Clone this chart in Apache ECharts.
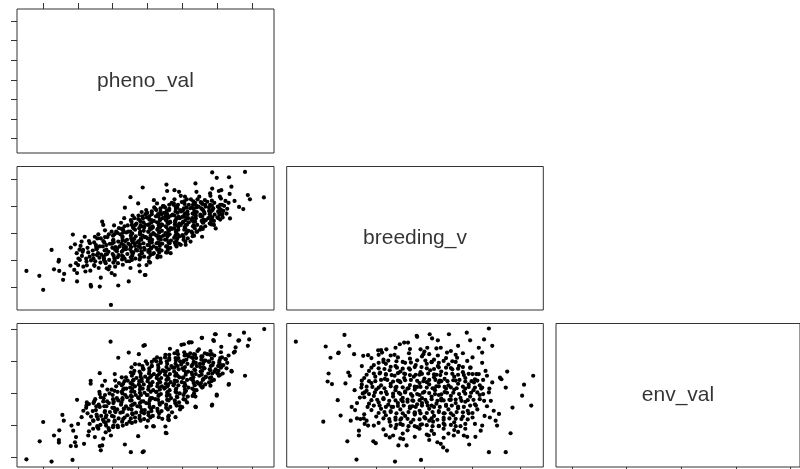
<!DOCTYPE html>
<html>
<head>
<meta charset="utf-8">
<script src="https://cdn.jsdelivr.net/npm/echarts@6/dist/echarts.min.js"></script>
<style>
html,body{margin:0;padding:0;background:#fff;}
#chart{width:800px;height:469px;}
</style>
</head>
<body>
<div id="chart"></div>
<script>
// ---- variable names (diagonal labels) ----
const varNames = ['pheno_val', 'breeding_v', 'env_val'];

// ---- tick values ----
const phenoTicks = [-3, -2, -1, 0, 1, 2, 3];
const breedingTicks = [-2, -1, 0, 1, 2];
const envTicks = [-2, -1, 0, 1, 2];

// ---- axis extents (data range + 4% padding, as in R pairs) ----
const phenoRange = [-3.74, 3.62];
const breedingRange = [-2.86, 2.47];
const envRange = [-2.29, 2.175];

// ---- panel: x = pheno_val, y = breeding_v ----
const pheno_breeding = [
[-3.47,-1.41],[-3.10,-1.59],[-2.99,-2.11],[-2.75,-0.63],[-2.68,-1.35],[-2.54,-1.00],[-2.55,-1.06],[-2.53,-1.41],[-2.39,-1.52],[-2.42,-1.74],
[-2.21,-1.21],[-2.14,-0.06],[-2.20,-0.54],[-2.08,-0.42],[-2.03,-0.75],[-2.10,-1.37],[-2.02,-1.49],[-2.02,-1.80],[-1.94,-1.00],[-1.99,-1.19],
[-1.89,-0.32],[-1.80,-0.14],[-1.85,-0.63],[-1.75,-1.06],[-1.78,-1.43],[-1.65,-0.38],[-1.62,-1.99],[-1.63,-1.93],[-1.56,-0.81],[-1.53,-1.19],
[-1.51,-0.14],[-1.46,-0.57],[-1.37,-1.99],[-1.34,-1.66],[-1.30,0.42],[-1.27,0.30],[-1.22,-1.06],[-1.17,-1.31],[-1.05,-2.67],[-1.03,-1.49],
[-0.94,-1.56],[-0.84,-1.95],[-0.65,0.94],[-0.54,-1.80],[-0.49,1.33],[-0.14,1.69],[-0.27,1.10],[-0.22,-1.43],[-0.08,-1.56],
[1.85,2.25],[1.98,2.05],[2.33,2.07],[2.79,2.27],[3.33,1.32],[2.87,1.41],[2.93,1.25],[2.74,0.89],[2.62,0.97],[2.49,1.19],
[2.40,1.72],[2.36,0.54],[2.23,1.19],[2.19,1.01],[2.11,1.59],[2.04,1.56],[2.07,1.35],[2.11,0.85],[2.14,0.69],[1.95,0.17],
[1.90,0.30],[1.85,0.48],[1.80,0.79],[1.85,1.65],[1.79,1.47],[1.71,1.16],[1.56,-0.14],[1.37,1.84],[1.40,1.53],[1.42,0.05],
[1.23,-0.32],[1.09,-0.44],[0.95,-0.44],[0.80,-0.44],[0.90,1.53],[0.95,1.38],[0.77,1.59],[0.54,1.80],[0.56,1.56],[0.47,1.28],
[0.18,1.22],[0.66,-0.75],[0.56,-0.72],[0.37,-0.88],[0.28,-0.91],[0.18,-0.75],[0.04,-1.06],[-0.03,-1.19],[-0.06,-1.56],[0.04,-0.63],
[-1.95,-0.62],[-1.88,-0.85],[-2.05,-1.12],[-1.92,-0.48],[-1.84,-1.25],[-1.98,-0.95],[-1.86,-0.70],
[-1.72,-0.55],[-1.66,-0.88],[-1.74,-1.20],[-1.68,-0.30],[-1.62,-1.02],[-1.70,-0.72],[-1.64,-1.40],[-1.76,-0.95],
[-1.48,-0.45],[-1.42,-0.75],[-1.50,-1.05],[-1.44,-0.20],[-1.40,-1.30],[-1.46,-0.60],[-1.38,-0.92],[-1.52,-1.22],[-1.41,-0.05],
[-1.24,-0.35],[-1.18,-0.62],[-1.26,-0.88],[-1.20,-1.12],[-1.15,-0.15],[-1.22,0.10],[-1.16,-0.78],[-1.28,-0.50],[-1.12,-1.35],[-1.25,-1.00],
[-0.98,-0.25],[-0.92,-0.52],[-1.00,-0.78],[-0.94,-1.02],[-0.90,0.05],[-0.96,0.28],[-0.88,-0.68],[-1.02,-0.40],[-0.93,-1.25],[-0.99,-0.10],[-0.86,-0.90],
[-0.72,-0.18],[-0.68,-0.45],[-0.74,-0.70],[-0.66,-0.95],[-0.70,0.12],[-0.76,0.38],[-0.64,-0.30],[-0.71,-1.18],[-0.62,-0.60],[-0.78,-0.05],[-0.67,0.55],[-0.73,-0.85],
[-0.48,-0.10],[-0.42,-0.35],[-0.50,-0.60],[-0.44,-0.85],[-0.40,0.18],[-0.46,0.42],[-0.38,-0.22],[-0.52,-1.05],[-0.41,-0.72],[-0.55,0.05],[-0.43,0.65],[-0.36,-0.48],[-0.49,-1.30],
[-0.22,0.00],[-0.18,-0.25],[-0.25,-0.50],[-0.16,-0.75],[-0.20,0.28],[-0.27,0.52],[-0.14,-0.10],[-0.23,-0.98],[-0.12,0.40],[-0.29,-0.35],[-0.17,0.78],[-0.24,-1.20],[-0.10,-0.55],
[0.02,0.05],[0.08,-0.20],[0.00,-0.45],[0.06,-0.70],[0.04,0.32],[-0.02,0.58],[0.10,0.15],[0.03,-0.92],[0.12,-0.35],[-0.04,0.85],[0.07,-1.10],[0.11,0.48],[-0.05,-0.15],
[0.28,0.12],[0.32,-0.12],[0.26,-0.38],[0.34,-0.62],[0.30,0.38],[0.24,0.62],[0.36,0.22],[0.29,-0.85],[0.38,-0.25],[0.22,0.90],[0.33,0.02],[0.27,1.10],[0.35,0.52],
[0.52,0.25],[0.58,0.00],[0.50,-0.25],[0.56,-0.50],[0.54,0.50],[0.48,0.75],[0.60,0.35],[0.53,-0.72],[0.62,0.10],[0.46,1.00],[0.57,-0.12],[0.51,0.62],[0.63,-0.38],
[0.78,0.32],[0.82,0.08],[0.76,-0.18],[0.84,0.55],[0.80,0.80],[0.74,1.05],[0.86,-0.05],[0.79,0.45],[0.88,0.22],[0.72,0.68],[0.83,-0.30],[0.77,1.25],
[1.02,0.42],[1.08,0.18],[1.00,-0.08],[1.06,0.68],[1.04,0.92],[0.98,1.15],[1.10,0.30],[1.03,-0.25],[1.12,0.55],[0.96,0.80],[1.07,1.35],[1.13,0.05],
[1.28,0.55],[1.32,0.28],[1.26,0.05],[1.34,0.80],[1.30,1.05],[1.24,1.25],[1.36,0.42],[1.29,-0.12],[1.38,0.65],[1.22,0.92],
[1.52,0.62],[1.58,0.38],[1.50,0.12],[1.56,0.88],[1.54,1.12],[1.48,1.35],[1.60,0.50],[1.62,0.78],[1.46,0.98],
[1.78,0.70],[1.82,0.45],[1.76,0.95],[1.84,1.20],[1.74,0.55],[1.86,0.85],[1.80,1.38],
[2.02,0.80],[2.08,1.05],[2.00,0.58],[2.10,1.28],[2.06,0.68],
[2.28,0.90],[2.32,1.12],[2.26,0.72],[2.35,1.45],
[0.15,0.20],[0.20,-0.05],[0.42,0.30],[0.45,-0.10],[0.65,0.40],[0.70,0.15],[0.92,0.55],[0.95,0.30],[1.15,0.70],[1.18,0.40],
[0.40,0.70],[0.62,0.85],[0.10,-0.55],[-0.30,-0.65],[-0.55,-0.40],[-0.10,0.20],[0.85,0.95],[1.40,0.95],[1.65,1.05],[-0.80,-0.50],
[-0.35,0.30],[0.25,-0.55],[1.00,0.60],[0.58,0.58],[0.35,-0.40],
[-1.55,-0.95],[-1.57,-0.65],[-1.53,-0.35],
[-1.35,-1.10],[-1.33,-0.80],[-1.37,-0.50],[-1.34,-0.20],
[-1.10,-1.00],[-1.12,-0.70],[-1.08,-0.40],[-1.11,-0.05],[-1.09,-1.25],
[-0.85,-1.12],[-0.83,-0.82],[-0.87,-0.58],[-0.84,-0.32],[-0.86,0.00],[-0.82,0.18],
[-0.60,-1.05],[-0.58,-0.78],[-0.62,-0.52],[-0.59,-0.25],[-0.61,0.02],[-0.57,0.28],
[-0.35,-0.95],[-0.33,-0.62],[-0.37,-0.38],[-0.34,-0.12],[-0.36,0.12],[-0.32,0.35],[-0.38,0.55],
[-0.10,-0.88],[-0.08,-0.62],[-0.12,-0.38],[-0.09,-0.15],[-0.11,0.08],[-0.07,0.30],[-0.13,0.55],[-0.06,0.70],
[0.15,-0.78],[0.17,-0.50],[0.13,-0.25],[0.16,0.00],[0.14,0.25],[0.18,0.45],[0.12,0.70],[0.19,0.95],
[0.40,-0.65],[0.42,-0.40],[0.38,-0.15],[0.41,0.08],[0.39,0.32],[0.43,0.55],[0.37,0.80],[0.44,1.00],
[0.65,-0.55],[0.67,-0.28],[0.63,-0.05],[0.66,0.18],[0.64,0.42],[0.68,0.65],[0.62,0.90],[0.69,1.12],
[0.90,-0.40],[0.92,-0.12],[0.88,0.12],[0.91,0.35],[0.89,0.60],[0.93,0.85],[0.87,1.05],
[1.15,-0.20],[1.17,0.08],[1.13,0.32],[1.16,0.55],[1.14,0.80],[1.18,1.05],[1.12,1.25],
[1.40,0.05],[1.42,0.30],[1.38,0.55],[1.41,0.78],[1.39,1.02],[1.43,1.25],
[1.65,0.25],[1.67,0.48],[1.63,0.72],[1.66,0.98],[1.64,1.22],
[1.90,0.45],[1.92,0.68],[1.88,0.92],[1.91,1.12],
[2.15,0.58],[2.17,0.82],[2.13,1.05],
[-1.45,-0.82],[-1.47,-0.52],[-1.25,-0.95],[-1.23,-0.65],[-1.27,-0.30],
[-0.98,-1.10],[-0.97,-0.85],[-1.01,-0.55],[-0.99,-0.28],[-1.03,0.05],
[-0.73,-0.98],[-0.71,-0.65],[-0.75,-0.40],[-0.72,-0.12],[-0.74,0.15],
[-0.48,-0.90],[-0.46,-0.70],[-0.50,-0.45],[-0.47,-0.20],[-0.49,0.05],[-0.45,0.30],
[-0.23,-0.82],[-0.21,-0.55],[-0.25,-0.30],[-0.22,-0.05],[-0.24,0.18],[-0.20,0.42],[-0.26,0.65],
[0.02,-0.70],[0.04,-0.45],[0.00,-0.20],[0.03,0.05],[0.01,0.30],[0.05,0.50],[-0.01,0.75],
[0.28,-0.62],[0.30,-0.35],[0.26,-0.10],[0.29,0.15],[0.27,0.40],[0.31,0.62],[0.25,0.85],
[0.53,-0.50],[0.55,-0.25],[0.51,0.00],[0.54,0.22],[0.52,0.48],[0.56,0.70],[0.50,0.95],
[0.78,-0.35],[0.80,-0.08],[0.76,0.18],[0.79,0.42],[0.77,0.65],[0.81,0.90],[0.75,1.10],
[1.03,-0.15],[1.05,0.12],[1.01,0.38],[1.04,0.62],[1.02,0.85],[1.06,1.08],
[1.28,0.00],[1.30,0.25],[1.26,0.48],[1.29,0.72],[1.27,0.95],[1.31,1.18],
[1.53,0.22],[1.55,0.45],[1.51,0.68],[1.54,0.92],[1.52,1.15],
[1.78,0.35],[1.80,0.60],[1.76,0.82],[1.79,1.05],
[2.03,0.55],[2.05,0.75],[2.01,0.98],
[-1.20,-0.80],[-1.18,-0.45],[-1.22,-0.15],
[-0.95,-0.95],[-0.93,-0.62],[-0.97,-0.35],[-0.95,-0.05],
[-0.70,-0.88],[-0.68,-0.55],[-0.72,-0.28],[-0.70,0.02],[-0.66,0.25],
[-0.45,-1.00],[-0.43,-0.78],[-0.47,-0.52],[-0.45,-0.28],[-0.44,-0.02],[-0.42,0.22],[-0.48,0.48],
[-0.20,-0.90],[-0.18,-0.68],[-0.22,-0.42],[-0.19,-0.20],[-0.21,0.05],[-0.17,0.25],[-0.23,0.48],[-0.15,0.62],
[0.08,-0.82],[0.10,-0.58],[0.06,-0.32],[0.09,-0.08],[0.07,0.18],[0.11,0.40],[0.05,0.62],[0.12,0.80],
[0.33,-0.72],[0.35,-0.48],[0.31,-0.20],[0.34,0.05],[0.32,0.28],[0.36,0.48],[0.30,0.70],[0.37,0.92],
[0.58,-0.62],[0.60,-0.35],[0.56,-0.10],[0.59,0.12],[0.57,0.38],[0.61,0.60],[0.55,0.82],[0.62,1.05],
[0.83,-0.50],[0.85,-0.20],[0.81,0.05],[0.84,0.28],[0.82,0.52],[0.86,0.75],[0.80,0.98],
[1.08,-0.32],[1.10,-0.02],[1.06,0.22],[1.09,0.48],[1.07,0.72],[1.11,0.95],[1.05,1.18],
[1.33,-0.10],[1.35,0.18],[1.31,0.42],[1.34,0.68],[1.32,0.90],[1.36,1.12],
[1.58,0.15],[1.60,0.40],[1.56,0.62],[1.59,0.85],[1.57,1.08],
[1.83,0.32],[1.85,0.58],[1.81,0.80],[1.84,1.02],
[2.08,0.50],[2.10,0.70],[2.06,0.92]
];

// ---- panel: x = pheno_val, y = env_val ----
const pheno_env = [
[-3.47,-2.05],[-2.75,-2.12],[-2.15,-2.07],[-3.09,-1.49],[-2.99,-0.89],[-2.68,-1.31],[-2.54,-1.53],[-2.54,-1.45],[-2.44,-0.67],[-2.40,-0.85],
[-2.53,-1.15],[-2.20,-1.64],[-2.05,-1.64],[-2.02,-0.20],[-1.63,0.39],[-1.63,0.30],[-1.37,0.63],[-1.06,1.61],[-0.84,1.11],[-0.54,1.27],
[-0.08,1.50],[-0.48,-1.83],[-0.14,-1.83],[-0.65,-1.59],[-1.34,-1.77],[3.34,2.00],[2.91,1.68],[2.87,1.48],[2.79,0.55],[2.76,1.89],
[2.60,1.64],[2.50,1.30],[2.35,1.82],[2.32,0.27],[2.41,0.68],[2.24,1.06],[1.98,-0.07],[1.84,-0.38],[1.38,-0.43],[1.55,1.73],
[1.93,1.84],[1.88,1.66],[1.20,1.59],[1.26,1.59],[0.97,1.51],[0.64,1.39],[0.52,-1.23],[0.16,-1.02],[-0.03,-1.04],[0.59,-0.73],
[0.59,-0.81],[0.93,-0.40],[0.93,-0.50],[-0.27,-1.33],[-1.37,-1.64],
[-2.13,-1.16],[-2.18,-1.00],[-1.99,-0.95],[-1.89,-0.74],[-1.84,-0.54],[-1.75,-0.38],[-1.68,-0.33],[-1.55,-0.30],[-1.56,-0.85],[-1.70,-1.31],
[-1.82,-1.57],[-1.51,-1.36],[-1.30,-1.62],[-1.27,-1.41],[-1.41,-1.10],[-1.20,-1.21],[-1.05,-1.31],[-0.99,-1.05],[-2.08,-1.52],[-2.05,-1.36],
[-1.37,-0.02],[-1.30,0.24],[-1.22,0.39],[-0.94,0.60],[-0.74,0.50],[-0.46,0.81],[-0.36,0.91],[-0.25,1.22],[-0.12,1.48],
[2.62,1.65],[2.52,1.43],[2.47,1.27],[2.40,0.70],[2.33,0.29],[2.23,1.07],[2.11,1.45],[2.07,0.91],[1.98,-0.04],[1.85,-0.35],
[1.90,1.63],[1.95,1.84],[1.56,1.73],[1.37,-0.41],[1.37,-0.10],[1.18,1.58],[1.04,1.53],[0.85,1.32],[0.80,-0.74],[0.61,-0.69],
[0.61,-0.83],[0.51,-1.03],[0.54,-1.24],[0.42,-0.79],[0.18,-1.03],[-0.11,-1.80],[0.01,-0.85],[0.32,-0.74],[0.70,-0.59],[0.99,-0.43],
[1.13,-0.28],[1.52,0.24],[1.76,0.34],[1.80,0.24],[1.66,0.50],[2.04,0.55],[1.95,0.75],[1.71,1.22],[1.80,1.32],[1.47,1.37],
[1.33,1.22],[1.61,1.01],[2.14,0.86],
[-1.72,-0.62],[-1.66,-0.95],[-1.74,-0.28],[-1.68,-1.18],[-1.62,-0.72],[-1.76,-0.45],
[-1.48,-0.52],[-1.42,-0.80],[-1.50,-0.18],[-1.44,-1.02],[-1.40,-0.35],[-1.46,-0.66],[-1.38,0.05],
[-1.24,-0.40],[-1.18,-0.68],[-1.26,-0.15],[-1.20,-0.92],[-1.15,0.12],[-1.22,-0.55],[-1.16,-0.25],[-1.28,-0.82],[-1.12,-1.08],
[-0.98,-0.30],[-0.92,-0.58],[-1.00,-0.05],[-0.94,-0.85],[-0.90,0.22],[-0.96,-0.45],[-0.88,-0.15],[-1.02,-0.70],[-0.93,0.40],[-0.86,-1.00],
[-0.72,-0.20],[-0.68,-0.48],[-0.74,0.05],[-0.66,-0.75],[-0.70,0.30],[-0.76,-0.35],[-0.64,-0.05],[-0.71,-1.00],[-0.62,0.50],[-0.78,-0.60],[-0.67,0.15],
[-0.48,-0.08],[-0.42,-0.35],[-0.50,0.18],[-0.44,-0.62],[-0.40,0.42],[-0.46,-0.22],[-0.38,0.05],[-0.52,-0.88],[-0.41,0.62],[-0.55,-0.48],[-0.43,0.28],[-0.36,-0.75],
[-0.22,0.02],[-0.18,-0.25],[-0.25,0.28],[-0.16,-0.52],[-0.20,0.52],[-0.27,-0.12],[-0.14,0.15],[-0.23,-0.78],[-0.12,0.75],[-0.29,-0.40],[-0.17,0.38],[-0.24,0.90],[-0.10,-0.62],
[0.02,0.12],[0.08,-0.15],[0.00,0.38],[0.06,-0.42],[0.04,0.62],[-0.02,-0.05],[0.10,0.25],[0.03,-0.68],[0.12,0.85],[-0.04,-0.30],[0.07,0.50],[0.11,-0.55],[-0.05,1.00],
[0.28,0.22],[0.32,-0.05],[0.26,0.48],[0.34,-0.30],[0.30,0.72],[0.24,0.05],[0.36,0.35],[0.29,-0.55],[0.38,0.95],[0.22,-0.18],[0.33,0.60],[0.27,1.12],[0.35,0.12],
[0.52,0.30],[0.58,0.05],[0.50,0.58],[0.56,-0.20],[0.54,0.82],[0.48,0.15],[0.60,0.45],[0.53,-0.45],[0.62,1.05],[0.46,0.70],[0.57,0.22],[0.51,1.20],[0.63,-0.05],
[0.78,0.40],[0.82,0.15],[0.76,0.68],[0.84,-0.10],[0.80,0.92],[0.74,0.25],[0.86,0.55],[0.79,-0.30],[0.88,1.10],[0.72,0.80],[0.83,0.02],[0.77,1.25],
[1.02,0.50],[1.08,0.25],[1.00,0.78],[1.06,0.02],[1.04,1.02],[0.98,0.35],[1.10,0.65],[1.03,-0.18],[1.12,1.20],[0.96,0.90],[1.07,0.12],
[1.28,0.58],[1.32,0.32],[1.26,0.85],[1.34,0.10],[1.30,1.10],[1.24,0.45],[1.36,0.72],[1.29,-0.08],[1.38,0.95],[1.22,1.25],
[1.52,0.68],[1.58,0.42],[1.50,0.92],[1.56,0.18],[1.54,1.15],[1.48,0.55],[1.60,0.80],[1.62,1.02],[1.46,0.30],
[1.78,0.75],[1.82,0.50],[1.76,1.00],[1.84,1.22],[1.74,0.62],[1.86,0.88],
[2.02,0.85],[2.08,1.10],[2.00,0.62],[2.10,1.28],
[2.28,0.95],[2.32,1.18],[2.26,0.78],
[-1.55,-0.85],[-1.57,-0.55],[-1.53,-0.25],[-1.56,-1.10],
[-1.35,-0.98],[-1.33,-0.70],[-1.37,-0.42],[-1.34,-0.12],
[-1.10,-1.15],[-1.12,-0.85],[-1.08,-0.58],[-1.11,-0.30],[-1.09,0.00],
[-0.85,-1.05],[-0.83,-0.78],[-0.87,-0.50],[-0.84,-0.22],[-0.86,0.05],[-0.82,0.32],
[-0.60,-0.95],[-0.58,-0.68],[-0.62,-0.40],[-0.59,-0.12],[-0.61,0.15],[-0.57,0.40],
[-0.35,-0.88],[-0.33,-0.60],[-0.37,-0.32],[-0.34,-0.05],[-0.36,0.22],[-0.32,0.48],[-0.38,0.70],
[-0.10,-0.80],[-0.08,-0.52],[-0.12,-0.25],[-0.09,0.02],[-0.11,0.28],[-0.07,0.52],[-0.13,0.78],
[0.15,-0.70],[0.17,-0.42],[0.13,-0.15],[0.16,0.10],[0.14,0.35],[0.18,0.60],[0.12,0.85],[0.19,1.05],
[0.40,-0.55],[0.42,-0.28],[0.38,-0.02],[0.41,0.22],[0.39,0.48],[0.43,0.72],[0.37,0.98],
[0.65,-0.42],[0.67,-0.15],[0.63,0.10],[0.66,0.35],[0.64,0.60],[0.68,0.85],[0.62,1.10],
[0.90,-0.28],[0.92,0.00],[0.88,0.25],[0.91,0.50],[0.89,0.75],[0.93,1.00],[0.87,1.22],
[1.15,-0.10],[1.17,0.18],[1.13,0.42],[1.16,0.68],[1.14,0.92],[1.18,1.15],
[1.40,0.10],[1.42,0.35],[1.38,0.60],[1.41,0.85],[1.39,1.10],[1.43,1.32],
[1.65,0.28],[1.67,0.52],[1.63,0.78],[1.66,1.02],[1.64,1.25],
[1.90,0.42],[1.92,0.68],[1.88,0.95],[1.91,1.18],
[2.15,0.62],[2.17,0.88],[2.13,1.12],
[-1.45,-0.72],[-1.47,-0.40],[-1.43,-1.05],[-1.25,-0.88],[-1.23,-0.58],[-1.27,-0.25],
[-0.98,-1.00],[-0.97,-0.72],[-1.01,-0.45],[-0.99,-0.18],[-1.03,0.12],
[-0.73,-0.88],[-0.71,-0.58],[-0.75,-0.28],[-0.72,0.00],[-0.74,0.25],
[-0.48,-0.78],[-0.46,-0.50],[-0.50,-0.22],[-0.47,0.05],[-0.49,0.32],[-0.45,0.55],
[-0.23,-0.70],[-0.21,-0.42],[-0.25,-0.15],[-0.22,0.12],[-0.24,0.38],[-0.20,0.62],
[0.02,-0.60],[0.04,-0.32],[0.00,-0.05],[0.03,0.20],[0.01,0.45],[0.05,0.70],[-0.01,0.92],
[0.28,-0.48],[0.30,-0.20],[0.26,0.05],[0.29,0.30],[0.27,0.55],[0.31,0.80],[0.25,1.00],
[0.53,-0.35],[0.55,-0.08],[0.51,0.18],[0.54,0.42],[0.52,0.68],[0.56,0.92],[0.50,1.12],
[0.78,-0.22],[0.80,0.05],[0.76,0.30],[0.79,0.55],[0.77,0.80],[0.81,1.02],
[1.03,-0.05],[1.05,0.22],[1.01,0.48],[1.04,0.72],[1.02,0.98],[1.06,1.18],
[1.28,0.15],[1.30,0.40],[1.26,0.65],[1.29,0.90],[1.27,1.12],
[1.53,0.32],[1.55,0.58],[1.51,0.82],[1.54,1.05],
[1.78,0.48],[1.80,0.72],[1.76,0.98],[1.79,1.20],
[2.03,0.70],[2.05,0.95],
[-1.20,-0.75],[-1.18,-0.40],[-1.22,-0.05],[-1.19,-1.00],
[-0.95,-0.88],[-0.93,-0.55],[-0.97,-0.25],[-0.95,0.08],
[-0.70,-0.80],[-0.68,-0.48],[-0.72,-0.15],[-0.70,0.12],[-0.66,0.38],
[-0.45,-0.92],[-0.43,-0.65],[-0.47,-0.38],[-0.45,-0.10],[-0.44,0.15],[-0.42,0.40],[-0.48,0.65],
[-0.20,-0.85],[-0.18,-0.58],[-0.22,-0.30],[-0.19,-0.05],[-0.21,0.20],[-0.17,0.45],[-0.23,0.68],[-0.15,0.85],
[0.08,-0.75],[0.10,-0.48],[0.06,-0.22],[0.09,0.05],[0.07,0.30],[0.11,0.55],[0.05,0.78],[0.12,0.98],
[0.33,-0.62],[0.35,-0.35],[0.31,-0.08],[0.34,0.18],[0.32,0.42],[0.36,0.65],[0.30,0.88],[0.37,1.08],
[0.58,-0.50],[0.60,-0.22],[0.56,0.02],[0.59,0.28],[0.57,0.52],[0.61,0.75],[0.55,1.00],[0.62,1.20],
[0.83,-0.38],[0.85,-0.12],[0.81,0.12],[0.84,0.38],[0.82,0.62],[0.86,0.85],[0.80,1.10],
[1.08,-0.20],[1.10,0.08],[1.06,0.32],[1.09,0.58],[1.07,0.82],[1.11,1.05],[1.05,1.28],
[1.33,0.00],[1.35,0.25],[1.31,0.50],[1.34,0.75],[1.32,0.98],[1.36,1.20],
[1.58,0.20],[1.60,0.45],[1.56,0.70],[1.59,0.92],[1.57,1.15],
[1.83,0.38],[1.85,0.62],[1.81,0.85],[1.84,1.08],
[2.08,0.58],[2.10,0.80],[2.06,1.02]
];

// ---- panel: x = breeding_v, y = env_val ----
const breeding_env = [
[-2.67,1.61],[-2.10,-0.88],[-1.95,1.11],[-1.79,1.25],[-1.56,1.48],[-1.99,0.62],[-2.01,0.37],[-1.92,0.29],[-1.80,-0.21],[-1.74,-0.69],
[-1.60,-1.49],[-1.41,-2.06],[-1.36,-1.16],[-1.36,-1.31],[-1.46,1.22],[-1.27,1.17],[-1.17,1.19],[-1.06,-1.49],[-1.01,-1.55],[-0.61,-2.12],
[-0.96,1.34],[-0.88,1.27],[-0.79,1.37],[-0.51,1.53],[-0.42,1.58],[-0.34,1.58],[-1.58,0.65],[-1.55,0.55],[-1.64,0.31],[-1.51,-0.42],
[-1.44,-0.52],[-1.53,-0.85],[-1.40,-0.78],[-1.33,-0.80],[-1.26,-0.78],[-1.24,-0.95],[-1.17,-1.00],[-1.31,0.18],[-1.24,0.03],[-1.34,-0.13],
[-0.72,-1.37],[-0.65,-1.31],[-0.54,-1.62],[-0.44,-1.42],[-0.37,-1.62],[-1.66,1.82],[-1.78,1.27],[-2.05,1.46],
[-0.15,1.76],[0.11,1.84],[0.16,1.71],[0.28,1.65],[0.51,1.84],[0.88,1.89],[0.95,1.65],[1.24,1.68],[1.34,2.02],[1.41,1.48],
[1.13,1.42],[1.20,1.27],[0.70,1.48],[1.72,0.68],[1.60,0.44],[1.57,0.49],[1.41,0.34],[2.07,0.27],[2.26,0.55],[2.03,-0.07],
[2.22,-0.38],[1.83,-0.44],[1.69,0.18],[1.79,-1.24],[1.69,-1.83],[1.34,-1.83],[1.55,-0.64],[1.48,-0.85],[1.51,-1.00],[1.44,-0.54],
[1.36,-0.75],[1.20,-1.00],[1.17,-1.16],[1.06,-1.35],[0.89,-1.35],[0.93,-1.59],[0.47,-1.78],[0.39,-1.68],[0.34,-1.57],[0.27,-1.52],
[-0.07,-2.07],[0.09,-1.31],[0.20,-1.26],[0.61,-1.31],[0.82,-1.31],[1.24,-0.23],[1.34,0.03],[1.38,-0.23],[1.20,0.18],[1.03,0.34],
[1.13,0.60],[1.27,0.70],[0.96,0.80],[0.89,1.01],[0.68,1.11],[0.47,1.27],[0.34,1.42],[0.06,1.42],[-0.08,1.37],[-0.16,1.79],
[-0.85,1.05],[-0.55,1.12],[-0.30,1.08],[-0.05,1.15],[0.20,1.05],[0.45,1.10],[-0.70,1.18],[0.10,1.22],[0.65,0.98],
[-1.05,0.88],[-0.80,0.92],[-0.60,0.85],[-0.40,0.95],[-0.18,0.88],[0.05,0.92],[0.28,0.85],[0.50,0.90],[0.72,0.86],[-0.95,0.95],[0.15,0.98],
[-1.15,0.70],[-0.92,0.65],[-0.72,0.72],[-0.50,0.68],[-0.30,0.74],[-0.08,0.66],[0.12,0.72],[0.35,0.68],[0.58,0.75],[0.80,0.66],[1.00,0.60],[-0.40,0.60],[0.25,0.58],
[-1.25,0.48],[-1.02,0.52],[-0.82,0.45],[-0.62,0.55],[-0.42,0.48],[-0.22,0.52],[0.00,0.46],[0.20,0.50],[0.42,0.45],[0.62,0.52],[0.85,0.48],[1.05,0.44],[-0.10,0.58],[0.32,0.40],
[-1.30,0.28],[-1.10,0.32],[-0.90,0.25],[-0.70,0.30],[-0.50,0.35],[-0.30,0.26],[-0.10,0.32],[0.10,0.28],[0.30,0.34],[0.50,0.25],[0.70,0.30],[0.92,0.28],[1.15,0.25],[-0.60,0.18],[0.20,0.15],
[-1.20,0.08],[-1.00,0.12],[-0.80,0.05],[-0.60,0.10],[-0.40,0.06],[-0.20,0.12],[0.00,0.05],[0.22,0.10],[0.42,0.04],[0.62,0.12],[0.82,0.06],[1.02,0.10],[-0.50,-0.02],[0.30,-0.05],[-0.10,-0.05],
[-1.25,-0.12],[-1.05,-0.08],[-0.85,-0.15],[-0.65,-0.10],[-0.45,-0.14],[-0.25,-0.08],[-0.05,-0.15],[0.15,-0.10],[0.35,-0.16],[0.55,-0.08],[0.75,-0.14],[0.95,-0.10],[1.15,-0.05],
[-1.15,-0.32],[-0.95,-0.28],[-0.75,-0.35],[-0.55,-0.30],[-0.35,-0.26],[-0.15,-0.34],[0.05,-0.28],[0.25,-0.32],[0.45,-0.36],[0.65,-0.30],[0.85,-0.26],[1.05,-0.34],[-0.25,-0.22],[0.35,-0.22],
[-1.10,-0.52],[-0.90,-0.48],[-0.70,-0.55],[-0.50,-0.50],[-0.30,-0.46],[-0.10,-0.54],[0.10,-0.48],[0.30,-0.55],[0.50,-0.50],[0.70,-0.46],[0.90,-0.54],[1.10,-0.50],[-0.20,-0.62],[0.40,-0.62],
[-1.00,-0.72],[-0.80,-0.68],[-0.60,-0.75],[-0.40,-0.70],[-0.20,-0.66],[0.00,-0.74],[0.20,-0.70],[0.40,-0.76],[0.60,-0.68],[0.80,-0.72],[1.00,-0.75],[-0.50,-0.82],[0.10,-0.85],
[-0.95,-0.92],[-0.72,-0.88],[-0.50,-0.95],[-0.28,-0.90],[-0.05,-0.96],[0.18,-0.88],[0.40,-0.94],[0.62,-0.90],[0.85,-0.95],[-0.15,-1.05],[0.30,-1.02],
[-0.85,-1.12],[-0.60,-1.08],[-0.35,-1.15],[-0.10,-1.10],[0.15,-1.16],[0.40,-1.10],[0.62,-1.14],[-0.45,-1.25],[0.05,-1.28],[0.50,-1.25],
[-0.35,0.15],[-0.15,0.20],[0.05,0.35],[0.25,0.22],[-0.55,0.40],[-0.25,-0.40],[0.15,-0.38],[0.45,0.15],[-0.45,-0.25],[-0.05,-0.30],
[0.55,-0.20],[-0.65,-0.42],[0.65,0.40],[-0.80,0.60],[0.85,0.15],
[-0.75,1.02],[-0.45,0.98],[-0.15,1.03],[0.15,0.97],[0.40,1.01],
[-0.95,0.78],[-0.70,0.83],[-0.45,0.77],[-0.20,0.82],[0.05,0.78],[0.30,0.81],[0.55,0.79],[0.80,0.82],
[-1.05,0.62],[-0.80,0.58],[-0.55,0.63],[-0.30,0.57],[-0.05,0.61],[0.20,0.59],[0.45,0.62],[0.70,0.58],[0.92,0.61],
[-1.15,0.38],[-0.90,0.42],[-0.65,0.37],[-0.40,0.41],[-0.15,0.39],[0.10,0.42],[0.35,0.38],[0.60,0.41],[0.85,0.37],[1.10,0.40],
[-1.20,0.21],[-0.95,0.18],[-0.70,0.22],[-0.45,0.19],[-0.20,0.21],[0.05,0.18],[0.30,0.22],[0.55,0.19],[0.80,0.21],[1.05,0.18],
[-1.15,-0.02],[-0.90,0.02],[-0.65,-0.01],[-0.40,0.03],[-0.15,-0.02],[0.10,0.01],[0.35,-0.03],[0.60,0.02],[0.85,-0.01],[1.10,0.03],
[-1.10,-0.21],[-0.85,-0.18],[-0.60,-0.22],[-0.35,-0.19],[-0.10,-0.21],[0.15,-0.18],[0.40,-0.22],[0.65,-0.19],[0.90,-0.21],[1.15,-0.18],
[-1.05,-0.38],[-0.80,-0.42],[-0.55,-0.39],[-0.30,-0.41],[-0.05,-0.38],[0.20,-0.42],[0.45,-0.39],[0.70,-0.41],[0.95,-0.38],
[-0.95,-0.61],[-0.70,-0.58],[-0.45,-0.62],[-0.20,-0.59],[0.05,-0.61],[0.30,-0.58],[0.55,-0.62],[0.80,-0.59],[1.00,-0.61],
[-0.85,-0.78],[-0.60,-0.82],[-0.35,-0.79],[-0.10,-0.81],[0.15,-0.78],[0.40,-0.82],[0.65,-0.79],[0.90,-0.81],
[-0.70,-1.01],[-0.45,-0.98],[-0.20,-1.02],[0.05,-0.99],[0.30,-1.01],[0.55,-0.98],[0.75,-1.02],
[-0.62,1.20],[-0.32,1.25],[-0.02,1.22],[0.28,1.18],
[-0.85,0.98],[-0.58,1.00],[-0.28,0.96],[0.02,1.02],[0.30,0.95],[0.58,1.00],
[-1.10,0.80],[-0.83,0.76],[-0.57,0.80],[-0.32,0.78],[-0.06,0.82],[0.20,0.76],[0.45,0.80],[0.70,0.77],[0.95,0.80],
[-1.20,0.58],[-0.93,0.62],[-0.68,0.57],[-0.42,0.62],[-0.18,0.58],[0.08,0.62],[0.33,0.57],[0.58,0.61],[0.82,0.57],[1.08,0.60],
[-1.30,0.40],[-1.02,0.38],[-0.77,0.42],[-0.52,0.38],[-0.28,0.42],[-0.02,0.38],[0.23,0.42],[0.48,0.38],[0.73,0.42],[0.98,0.38],[1.22,0.42],
[-1.08,0.20],[-0.83,0.16],[-0.58,0.20],[-0.33,0.16],[-0.08,0.20],[0.17,0.16],[0.42,0.20],[0.67,0.16],[0.92,0.20],[1.18,0.15],
[-1.28,0.00],[-1.03,0.03],[-0.78,-0.02],[-0.53,0.02],[-0.28,-0.02],[-0.03,0.02],[0.22,-0.02],[0.47,0.02],[0.72,-0.02],[0.97,0.02],[1.22,-0.02],
[-0.98,-0.20],[-0.73,-0.23],[-0.48,-0.20],[-0.23,-0.23],[0.02,-0.20],[0.27,-0.23],[0.52,-0.20],[0.77,-0.23],[1.02,-0.20],
[-1.18,-0.42],[-0.93,-0.38],[-0.68,-0.42],[-0.43,-0.38],[-0.18,-0.42],[0.07,-0.38],[0.32,-0.42],[0.57,-0.38],[0.82,-0.42],[1.07,-0.38],
[-0.83,-0.58],[-0.58,-0.62],[-0.33,-0.58],[-0.08,-0.62],[0.17,-0.58],[0.42,-0.62],[0.67,-0.58],[0.92,-0.62],
[-0.73,-0.80],[-0.48,-0.78],[-0.23,-0.82],[0.02,-0.78],[0.27,-0.82],[0.52,-0.78],[0.77,-0.80],
[-0.58,-0.98],[-0.33,-1.02],[-0.08,-0.98],[0.17,-1.02],[0.42,-0.98],[0.65,-1.02],
[-0.90,1.35],[-0.60,1.42],[-0.30,1.38],[0.00,1.30],[0.25,1.40],[0.55,1.32],[0.80,1.25],[-1.10,1.10],[1.00,1.12],[1.20,0.95],
[-1.30,0.85],[1.30,0.55],[-1.45,0.10],[1.35,0.15],[-1.40,-0.30],[1.30,-0.40],[-1.25,-0.65],[1.25,-0.70],[-1.05,-1.00],[1.05,-0.95],
[-0.80,-1.30],[-0.50,-1.40],[-0.20,-1.35],[0.10,-1.45],[0.40,-1.38],[0.70,-1.20],[0.85,-1.10],[-0.95,1.20],[0.65,1.20],[-1.20,-0.85]
];

// ---- layout ----
const BOX = '#333';
const panels = [
  { grid: {left: 17,    top: 9,     width: 257,   height: 144},   xr: phenoRange,    yr: phenoRange,    xt: phenoTicks,    xpos: 'top',    yt: phenoTicks },
  { grid: {left: 17,    top: 166.5, width: 257,   height: 143.5}, xr: phenoRange,    yr: breedingRange, xt: null,          xpos: 'bottom', yt: breedingTicks },
  { grid: {left: 286.7, top: 166.5, width: 256.6, height: 143.5}, xr: breedingRange, yr: breedingRange, xt: null,          xpos: 'bottom', yt: null },
  { grid: {left: 17,    top: 323.5, width: 257,   height: 143.5}, xr: phenoRange,    yr: envRange,      xt: phenoTicks,    xpos: 'bottom', yt: envTicks },
  { grid: {left: 286.7, top: 323.5, width: 256.6, height: 143.5}, xr: breedingRange, yr: envRange,      xt: breedingTicks, xpos: 'bottom', yt: null },
  { grid: {left: 556,   top: 323.5, width: 257,   height: 143.5}, xr: envRange,      yr: envRange,      xt: envTicks,      xpos: 'bottom', yt: null }
];

function axisOf(i, range, ticks, pos) {
  return {
    type: 'value', gridIndex: i, min: range[0], max: range[1], position: pos,
    axisLine: {show: false, onZero: false},
    splitLine: {show: false},
    axisLabel: {show: false, customValues: ticks || []},
    axisTick: {show: !!ticks, customValues: ticks || [], length: 6, inside: false,
               lineStyle: {color: BOX, width: 1}}
  };
}

const grids = panels.map(p => Object.assign({show: true, borderColor: BOX, borderWidth: 1,
  backgroundColor: 'transparent', containLabel: false}, p.grid));
const xAxes = panels.map((p, i) => axisOf(i, p.xr, p.xt, p.xpos));
const yAxes = panels.map((p, i) => axisOf(i, p.yr, p.yt, 'left'));

function scatter(i, data) {
  return {type: 'scatter', xAxisIndex: i, yAxisIndex: i, data: data, symbol: 'circle',
    symbolSize: 4.2, itemStyle: {color: '#000', opacity: 1}, silent: true, animation: false, large: false};
}
function diagLabel(i, name, range) {
  const c = (range[0] + range[1]) / 2;
  return {type: 'scatter', xAxisIndex: i, yAxisIndex: i, data: [[c, c]], symbolSize: 1,
    itemStyle: {color: 'rgba(0,0,0,0)'}, silent: true, animation: false,
    label: {show: true, position: 'inside', formatter: name, color: '#000',
      fontFamily: 'Liberation Sans, Arial, sans-serif', fontSize: 21}};
}

const chart = echarts.init(document.getElementById('chart'), null, {renderer: 'canvas'});
chart.setOption({
  backgroundColor: '#fff',
  animation: false,
  grid: grids,
  xAxis: xAxes,
  yAxis: yAxes,
  series: [
    diagLabel(0, varNames[0], phenoRange),
    scatter(1, pheno_breeding),
    diagLabel(2, varNames[1], breedingRange),
    scatter(3, pheno_env),
    scatter(4, breeding_env),
    diagLabel(5, varNames[2], envRange)
  ]
});
</script>
</body>
</html>
